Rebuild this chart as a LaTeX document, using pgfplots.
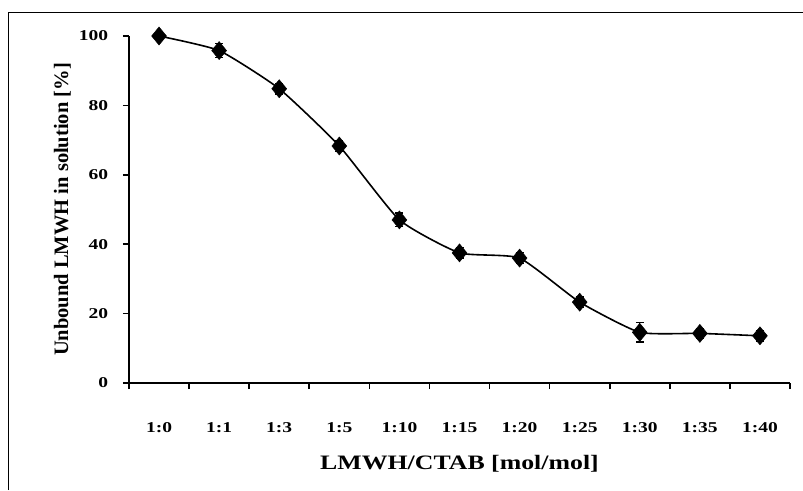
\documentclass[border=0pt]{standalone}
\usepackage{pgfplots}
\pgfplotsset{compat=1.18}
\usepackage{fontspec}
\setmainfont{Liberation Serif}
\begin{document}
\begin{tikzpicture}[x=1pt,y=1pt]
\useasboundingbox (-129,-107) rectangle (674,383);
\draw[line width=1pt] (-120,-107) -- (-120,370) -- (674,370);
\begin{axis}[
  at={(0,0)}, anchor=origin,
  scale only axis, width=661pt, height=347pt,
  xmin=0, xmax=11, ymin=0, ymax=100,
  axis x line*=bottom, axis y line*=left,
  axis line style={line width=1.6pt, -},
  every tick/.style={black, line width=1.6pt},
  tick align=outside, major tick length=6pt,
  xtick={0,...,11},
  x tick label as interval=true,
  xticklabels={1:0,1:1,1:3,1:5,1:10,1:15,1:20,1:25,1:30,1:35,1:40},
  ytick={0,20,...,100},
  tick label style={font=\bfseries\fontsize{15}{17}\selectfont, xscale=1.3},
  xticklabel style={yshift=-30pt},
  yticklabel style={xshift=-8pt},
  /pgf/number format/assume math mode=true,
  xlabel={LMWH/CTAB [mol/mol]},
  ylabel={Unbound LMWH in solution [\%]},
  label style={font=\bfseries\fontsize{20.5}{22}\selectfont},
  xlabel style={yshift=-16pt, xscale=1.26},
  ylabel style={yshift=0pt},
  clip=false,
]
\addplot+[black, line width=1.6pt, smooth, tension=0.3,
  mark=diamond*, mark size=9pt, mark options={black, fill=black, line width=0.5pt, xscale=1.1},
  error bars/.cd, y dir=both, y explicit,
  error bar style={black, line width=1.2pt}, error mark options={rotate=90, mark size=4pt, line width=1.2pt}]
coordinates {
(0.5,100) +- (0,1)
(1.5,95.8) +- (0,2)
(2.5,84.8) +- (0,1.5)
(3.5,68.3) +- (0,1.5)
(4.5,47) +- (0,2)
(5.5,37.5) +- (0,1.5)
(6.5,36) +- (0,1.5)
(7.5,23.3) +- (0,1.5)
(8.5,14.6) +- (0,2.8)
(9.5,14.3) +- (0,1.5)
(10.5,13.6) +- (0,1.5)
};
\end{axis}
\end{tikzpicture}
\end{document}
